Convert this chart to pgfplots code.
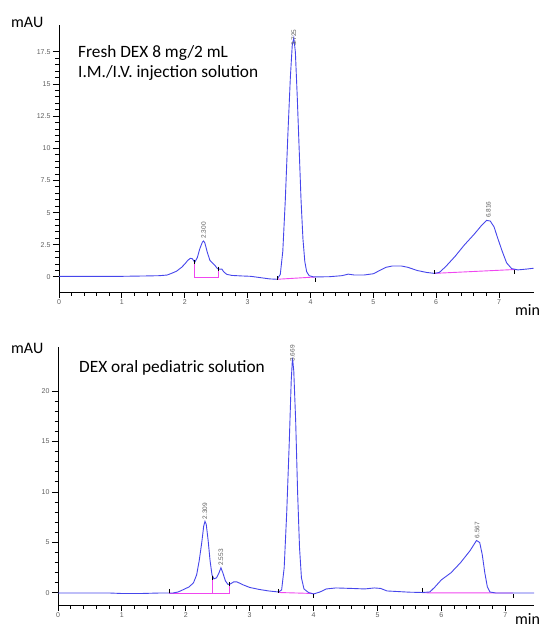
\documentclass[border=0pt]{standalone}
\usepackage{fontspec}
\setmainfont{Carlito}
\newfontfamily\tickfont{Liberation Sans}
\usepackage{pgfplots}
\pgfplotsset{compat=1.18}
\definecolor{trace}{RGB}{70,70,235}
\definecolor{base}{RGB}{240,70,240}
\definecolor{tickgray}{RGB}{95,95,95}
\pgfplotsset{chrom/.style={
  scale only axis, axis x line=bottom, axis y line=left,
  x axis line style={-, black, line width=0.8pt},
  y axis line style={-, black, line width=0.8pt},
  tick align=outside,
  every tick/.style={black, line width=1pt},
  major tick length=6pt, minor tick length=3.5pt,
  tick label style={font=\tickfont\fontsize{7}{7}\selectfont, text=tickgray},
  /pgf/number format/assume math mode=true,
  xtick={0,...,7}, minor x tick num=4,
  xticklabel style={yshift=2pt}, yticklabel style={xshift=1pt},
}}
\tikzset{plab/.style={rotate=90, anchor=west, inner sep=1pt, font=\tickfont\fontsize{6.5}{6.5}\selectfont, text=tickgray}}
\begin{document}
\begin{tikzpicture}
% ---------- top panel ----------
\begin{axis}[chrom, at={(59pt,-292pt)}, anchor=south west,
  width=475pt, height=267pt, xmin=0, xmax=7.556, ymin=-1.17, ymax=19.6,
  ytick={0,2.5,...,17.5}, minor y tick num=4,
  yticklabels={0,2.5,5,7.5,10,12.5,15,17.5}, clip=false]
\addplot[base, line width=0.9pt] coordinates {(2.16,1.15) (2.16,0) (2.54,0) (2.54,0.6)};
\addplot[base, line width=0.9pt] coordinates {(3.47,-0.18) (4.08,0.0)};
\addplot[base, line width=0.9pt] coordinates {(5.97,0.28) (7.25,0.58)};
\addplot[trace, line width=0.9pt] coordinates {
(0,0.05) (0.5,0.05) (1.0,0.05) (1.4,0.08) (1.6,0.1) (1.72,0.15) (1.8,0.3) (1.87,0.45)
(1.95,0.75) (2.0,1.0) (2.05,1.3) (2.09,1.45) (2.12,1.42) (2.16,1.15) (2.2,1.5) (2.24,2.2)
(2.28,2.7) (2.3,2.8) (2.32,2.65) (2.36,1.9) (2.4,1.3) (2.44,1.1) (2.48,0.9) (2.52,0.65)
(2.56,0.6) (2.59,0.62) (2.62,0.4) (2.67,0.2) (2.75,0.12) (2.9,0.08) (3.05,0.05) (3.2,-0.05)
(3.35,-0.15) (3.47,-0.18) (3.52,0.2) (3.56,2) (3.6,6) (3.64,11) (3.68,15.5) (3.71,18)
(3.735,18.6) (3.76,17.5) (3.79,14) (3.82,10) (3.85,6) (3.88,3) (3.91,1.2) (3.94,0.4)
(3.98,0.1) (4.05,0.0) (4.3,0.02) (4.5,0.1) (4.6,0.22) (4.7,0.15) (4.85,0.15) (5.0,0.25)
(5.1,0.5) (5.2,0.75) (5.3,0.85) (5.45,0.85) (5.55,0.75) (5.7,0.5) (5.85,0.35) (5.97,0.28)
(6.05,0.35) (6.15,0.8) (6.3,1.6) (6.45,2.5) (6.6,3.3) (6.72,4.0) (6.8,4.4) (6.86,4.35)
(6.92,3.9) (6.98,3.0) (7.05,2.0) (7.12,1.1) (7.2,0.65) (7.3,0.55) (7.45,0.62) (7.55,0.68)};
\addplot[only marks, mark=|, mark size=2pt, black, mark options={line width=0.6pt}]
  coordinates {(2.16,1.2) (2.54,0.65) (3.47,-0.1) (4.08,-0.2) (5.97,0.35) (7.25,0.4)};
\node[plab] at (axis cs:2.3,2.9) {2.300};
\node[plab] at (axis cs:3.735,17.9) {3.725};
\node[plab] at (axis cs:6.83,4.5) {6.816};
\end{axis}
\node[anchor=base west, font=\fontsize{17.3}{20}\selectfont, inner sep=0pt] at (78pt,-57pt) {Fresh DEX 8 mg/2 mL};
\node[anchor=base west, font=\fontsize{17.3}{20}\selectfont, inner sep=0pt] at (78pt,-77pt) {I.M./I.V. injection solution};
\node[anchor=base west, font=\fontsize{16}{18}\selectfont, inner sep=0pt] at (11pt,-27pt) {mAU};
\node[anchor=base west, font=\fontsize{16}{18}\selectfont, inner sep=0pt] at (515pt,-315pt) {min};
% ---------- bottom panel ----------
\begin{axis}[chrom, at={(58pt,-605pt)}, anchor=south west,
  width=476pt, height=258pt, xmin=0, xmax=7.45, ymin=-1.19, ymax=24.36,
  ytick={0,5,...,20}, minor y tick num=4, clip=false]
\addplot[base, line width=0.9pt] coordinates {(1.74,0) (2.68,0) (2.68,0.85)};
\addplot[base, line width=0.9pt] coordinates {(2.42,0) (2.42,1.55)};
\addplot[base, line width=0.9pt] coordinates {(3.45,0.05) (4.0,-0.05)};
\addplot[base, line width=0.9pt] coordinates {(5.7,0.02) (7.12,0.0)};
\addplot[trace, line width=0.9pt] coordinates {
(0,0.0) (0.8,0.0) (1.0,-0.05) (1.3,-0.05) (1.6,0.0) (1.8,0.0) (1.88,0.1) (1.95,0.3)
(2.05,0.6) (2.12,1.0) (2.17,1.8) (2.21,3.2) (2.25,5.0) (2.28,6.6) (2.30,7.1) (2.32,6.8)
(2.35,5.2) (2.38,3.2) (2.41,1.8) (2.44,1.4) (2.48,1.5) (2.52,2.0) (2.55,2.5) (2.58,2.0)
(2.62,1.2) (2.66,0.85) (2.7,0.9) (2.75,1.1) (2.8,1.1) (2.9,0.8) (3.0,0.55) (3.15,0.35)
(3.3,0.2) (3.45,0.1) (3.5,0.3) (3.54,2.5) (3.58,8) (3.62,15) (3.65,21) (3.67,23.3)
(3.69,22) (3.72,17) (3.75,10) (3.78,4.5) (3.81,1.5) (3.85,0.4) (3.92,0.05) (4.0,-0.1)
(4.1,0.1) (4.2,0.4) (4.35,0.5) (4.6,0.45) (4.8,0.4) (4.95,0.5) (5.05,0.45) (5.15,0.2)
(5.3,0.15) (5.5,0.08) (5.7,0.05) (5.82,0.1) (5.9,0.6) (6.0,1.3) (6.15,2.0) (6.3,3.0)
(6.45,4.2) (6.55,5.2) (6.6,5.0) (6.64,3.8) (6.68,2.0) (6.72,0.6) (6.76,0.1) (6.85,0.0) (7.45,0.0)};
\addplot[only marks, mark=|, mark size=2pt, black, mark options={line width=0.6pt}]
  coordinates {(1.74,0.2) (2.42,1.5) (2.68,0.9) (3.45,0.2) (4.0,-0.3) (5.7,0.3) (7.12,-0.3)};
\node[plab] at (axis cs:2.3,7.2) {2.309};
\node[plab] at (axis cs:2.55,2.6) {2.553};
\node[plab] at (axis cs:3.67,22.8) {3.669};
\node[plab] at (axis cs:6.56,5.3) {6.567};
\end{axis}
\node[anchor=base west, font=\fontsize{17.3}{20}\selectfont, inner sep=0pt] at (79pt,-372pt) {DEX oral pediatric solution};
\node[anchor=base west, font=\fontsize{16}{18}\selectfont, inner sep=0pt] at (11pt,-353pt) {mAU};
\node[anchor=base west, font=\fontsize{16}{18}\selectfont, inner sep=0pt] at (515pt,-624pt) {min};
\path (0,0) rectangle (542pt,-627pt);
\end{tikzpicture}
\end{document}
